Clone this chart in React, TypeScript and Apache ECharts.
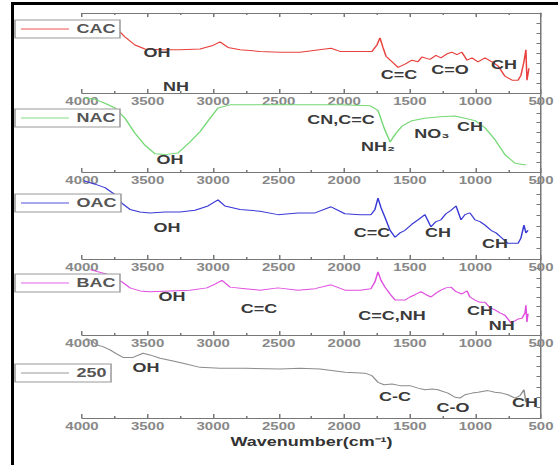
import React, { useEffect, useRef } from "react";
import * as echarts from "echarts";

// ---- data: wavenumber (cm-1) vs relative transmittance (0-100 within each panel) ----
const cacSpectrum: [number, number][] = [
  [3726, 79], [3672, 70], [3596, 60], [3520, 55], [3405, 54], [3253, 54], [3100, 55],
  [3009, 59], [2948, 64], [2887, 57], [2795, 54], [2643, 52], [2490, 51], [2338, 51],
  [2101, 56], [2033, 52], [1880, 52], [1789, 52], [1751, 60], [1728, 69], [1705, 57],
  [1682, 46], [1636, 39], [1590, 32], [1537, 36], [1484, 41], [1438, 39], [1408, 45],
  [1346, 42], [1301, 47], [1263, 44], [1217, 49], [1179, 51], [1141, 48], [1103, 51],
  [1064, 41], [1026, 44], [980, 39], [927, 44], [874, 39], [828, 34], [775, 21],
  [721, 16], [675, 16], [653, 22], [630, 39], [615, 54], [607, 16], [592, 31],
];

const nacSpectrum: [number, number][] = [
  [3985, 94], [3901, 92], [3825, 87], [3748, 81], [3672, 68], [3596, 49], [3520, 34],
  [3443, 23], [3367, 22], [3268, 24], [3177, 38], [3100, 51], [3024, 68], [2963, 81],
  [2871, 85], [2643, 85], [2338, 85], [2033, 85], [1804, 84], [1743, 78], [1697, 56],
  [1651, 38], [1606, 49], [1560, 58], [1484, 65], [1385, 68], [1270, 70], [1156, 71],
  [1080, 68], [1003, 65], [927, 56], [851, 41], [775, 22], [698, 11], [615, 9],
];

const oacSpectrum: [number, number][] = [
  [3985, 90], [3901, 86], [3825, 82], [3748, 74], [3695, 64], [3634, 57], [3558, 54],
  [3482, 53], [3367, 54], [3253, 54], [3138, 56], [3039, 61], [2963, 68], [2910, 61],
  [2795, 57], [2643, 55], [2506, 51], [2353, 53], [2223, 53], [2101, 60], [1995, 52],
  [1880, 51], [1796, 51], [1766, 57], [1743, 70], [1720, 59], [1682, 45], [1651, 33],
  [1613, 25], [1575, 30], [1537, 33], [1484, 40], [1438, 45], [1385, 51], [1339, 37],
  [1301, 43], [1263, 45], [1225, 52], [1186, 56], [1148, 61], [1110, 45], [1080, 51],
  [1042, 53], [1003, 45], [965, 43], [927, 39], [881, 33], [843, 30], [805, 25],
  [752, 18], [714, 18], [675, 18], [653, 24], [630, 39], [615, 30], [599, 33],
];

const bacSpectrum: [number, number][] = [
  [3939, 86], [3787, 79], [3695, 70], [3634, 62], [3558, 58], [3482, 57], [3329, 58],
  [3177, 59], [3047, 62], [2986, 67], [2933, 72], [2871, 63], [2757, 61], [2643, 59],
  [2506, 62], [2353, 59], [2223, 61], [2101, 66], [1995, 59], [1880, 59], [1796, 61],
  [1766, 70], [1743, 83], [1720, 72], [1690, 63], [1651, 54], [1613, 46], [1537, 46],
  [1499, 50], [1461, 53], [1415, 57], [1377, 53], [1339, 50], [1301, 55], [1263, 59],
  [1225, 62], [1186, 63], [1148, 57], [1103, 54], [1064, 58], [1042, 50], [1003, 46],
  [965, 43], [927, 43], [889, 36], [851, 33], [813, 29], [775, 26], [729, 16],
  [675, 21], [645, 22], [622, 29], [615, 39], [607, 17], [599, 28],
];

const ac250Spectrum: [number, number][] = [
  [3970, 96], [3924, 93], [3886, 88], [3840, 86], [3787, 82], [3733, 77], [3687, 73],
  [3611, 73], [3535, 78], [3482, 76], [3405, 72], [3314, 69], [3230, 66], [3100, 61],
  [2948, 60], [2757, 60], [2490, 59], [2338, 60], [2185, 59], [1995, 55], [1842, 54],
  [1789, 51], [1743, 43], [1697, 40], [1636, 41], [1575, 39], [1499, 39], [1438, 36],
  [1385, 34], [1331, 35], [1286, 34], [1209, 30], [1156, 25], [1118, 24], [1080, 28],
  [1026, 30], [980, 31], [904, 33], [851, 31], [798, 30], [752, 28], [698, 24],
  [660, 27], [630, 34], [615, 19],
];

// band assignments: [wavenumber, level, label]
const cacBands: [number, number, string][] = [
  [3428, 51, "OH"], [3283, 8, "NH"], [1583, 23, "C=C"], [1194, 29, "C=O"], [782, 35, "CH"],
];
const nacBands: [number, number, string][] = [
  [3329, 15, "OH"], [2025, 66, "CN,C=C"], [1743, 32, "NH\u2082"], [1331, 49, "NO\u2083"], [1042, 57, "CH"],
];
const oacBands: [number, number, string][] = [
  [3352, 36, "OH"], [1789, 30, "C=C"], [1286, 30, "CH"], [851, 18, "CH"],
];
const bacBands: [number, number, string][] = [
  [3314, 50, "OH"], [2650, 35, "C=C"], [1636, 26, "C=C,NH"], [965, 32, "CH"], [800, 12, "NH"],
];
const ac250Bands: [number, number, string][] = [
  [3512, 61, "OH"], [1613, 26, "C-C"], [1171, 13, "C-O"], [622, 19, "CH"],
];

const sampleNames = ["CAC", "NAC", "OAC", "BAC", "250"];
const wavenumberTicks = [4000, 3500, 3000, 2500, 2000, 1500, 1000, 500];

// ---- layout ----
const WIDTH = 558;
const HEIGHT = 465;
const STRETCH = 1.5; // the whole figure is drawn wide
const INNER_W = WIDTH / STRETCH;
const PLOT_LEFT = 82 / STRETCH;
const PLOT_RIGHT = 541 / STRETCH;
const panelEdges = [13, 93, 172, 259, 335, 418];
const legendTops = [20, 109, 194, 274, 364];
const FONT = "'Liberation Sans', Arial, sans-serif";
const AXIS_COLOR = "#777";

const spectra = [cacSpectrum, nacSpectrum, oacSpectrum, bacSpectrum, ac250Spectrum];
const bands = [cacBands, nacBands, oacBands, bacBands, ac250Bands];
const colors = ["#e8403c", "#74d874", "#3a3ad6", "#e04ee0", "#8c8c8c"];

function buildOption(): echarts.EChartsOption {
  const wnMin = wavenumberTicks[wavenumberTicks.length - 1];
  const wnMax = wavenumberTicks[0];
  const wnStep = wavenumberTicks[0] - wavenumberTicks[1];

  const baseX = (i: number) => ({
    gridIndex: i,
    type: "value" as const,
    min: wnMin,
    max: wnMax,
    interval: wnStep,
    inverse: true,
    axisLine: { show: true, onZero: false, lineStyle: { color: AXIS_COLOR, width: 1 } },
    axisTick: { show: true, inside: true, length: 4, lineStyle: { color: AXIS_COLOR } },
    minorTick: { show: true, splitNumber: 2, length: 2, lineStyle: { color: AXIS_COLOR } },
    splitLine: { show: false },
  });

  const xAxes: any[] = sampleNames.map((_, i) => ({
    ...baseX(i),
    position: "bottom",
    axisLabel: {
      show: true,
      margin: 3,
      fontSize: 10,
      fontWeight: "bold",
      color: "#888",
      fontFamily: FONT,
      formatter: (v: number) => String(v),
    },
    ...(i === sampleNames.length - 1
      ? {
          name: "Wavenumber(cm\u207B\u00B9)",
          nameLocation: "middle",
          nameGap: 18,
          nameTextStyle: { fontSize: 12, fontWeight: "bold", color: "#333", fontFamily: FONT },
        }
      : {}),
  }));
  // frame line along the top of the first panel
  xAxes.push({ ...baseX(0), position: "top", axisLabel: { show: false } });

  return {
    animation: false,
    backgroundColor: "#fff",
    grid: sampleNames.map((_, i) => ({
      left: PLOT_LEFT,
      width: PLOT_RIGHT - PLOT_LEFT,
      top: panelEdges[i],
      height: panelEdges[i + 1] - panelEdges[i],
    })),
    xAxis: xAxes,
    yAxis: sampleNames.map((_, i) => ({
      gridIndex: i,
      type: "value",
      min: 0,
      max: 100,
      interval: 12.5,
      position: "right",
      axisLine: { show: true, lineStyle: { color: AXIS_COLOR, width: 1 } },
      axisTick: { show: true, inside: true, length: 3, lineStyle: { color: AXIS_COLOR } },
      axisLabel: { show: false },
      splitLine: { show: false },
    })),
    legend: sampleNames.map((name, i) => ({
      data: [{ name, icon: "rect" }],
      left: 10,
      top: legendTops[i],
      padding: [3, 3, 3, 4],
      itemWidth: 32,
      itemHeight: 1.5,
      itemGap: 0,
      borderColor: "#999",
      borderWidth: 1,
      backgroundColor: "#fff",
      selectedMode: false,
      itemStyle: { opacity: 0.6 },
      textStyle: { fontSize: 12, fontWeight: "bold", color: "#555", fontFamily: FONT },
    })),
    series: sampleNames.map((name, i) => ({
      type: "line",
      name,
      xAxisIndex: i,
      yAxisIndex: i,
      data: spectra[i],
      symbol: "none",
      lineStyle: { color: colors[i], width: 1 },
      itemStyle: { color: colors[i] },
      markPoint: {
        symbol: "circle",
        symbolSize: 0,
        silent: true,
        label: {
          show: true,
          position: "inside",
          formatter: "{b}",
          fontSize: 12,
          fontWeight: "bold",
          color: "#3a3a3a",
          fontFamily: FONT,
        },
        data: bands[i].map(([wn, level, text]) => ({ name: text, coord: [wn, level] })),
      },
    })),
  } as echarts.EChartsOption;
}

export default function App() {
  const ref = useRef<HTMLDivElement>(null);

  useEffect(() => {
    if (!ref.current) return;
    const chart = echarts.init(ref.current, null, { renderer: "svg" });
    chart.setOption(buildOption());
    return () => chart.dispose();
  }, []);

  return (
    <div
      style={{
        position: "fixed",
        left: 0,
        top: 0,
        width: WIDTH,
        height: HEIGHT,
        overflow: "hidden",
        background: "#fff",
      }}
    >
      <div
        ref={ref}
        style={{
          width: INNER_W,
          height: HEIGHT,
          transform: `scaleX(${STRETCH})`,
          transformOrigin: "0 0",
        }}
      />
      {/* keep the right margin of the figure blank */}
      <div
        style={{
          position: "absolute",
          left: WIDTH - 4,
          top: 5,
          width: 4,
          height: HEIGHT - 5,
          background: "#fff",
          pointerEvents: "none",
        }}
      />
      {/* figure frame: top and left rules */}
      <div
        style={{
          position: "absolute",
          left: 11,
          top: 2,
          width: WIDTH - 11,
          height: HEIGHT - 2,
          borderTop: "3px solid #000",
          borderLeft: "3px solid #000",
          boxSizing: "border-box",
          pointerEvents: "none",
        }}
      />
    </div>
  );
}
